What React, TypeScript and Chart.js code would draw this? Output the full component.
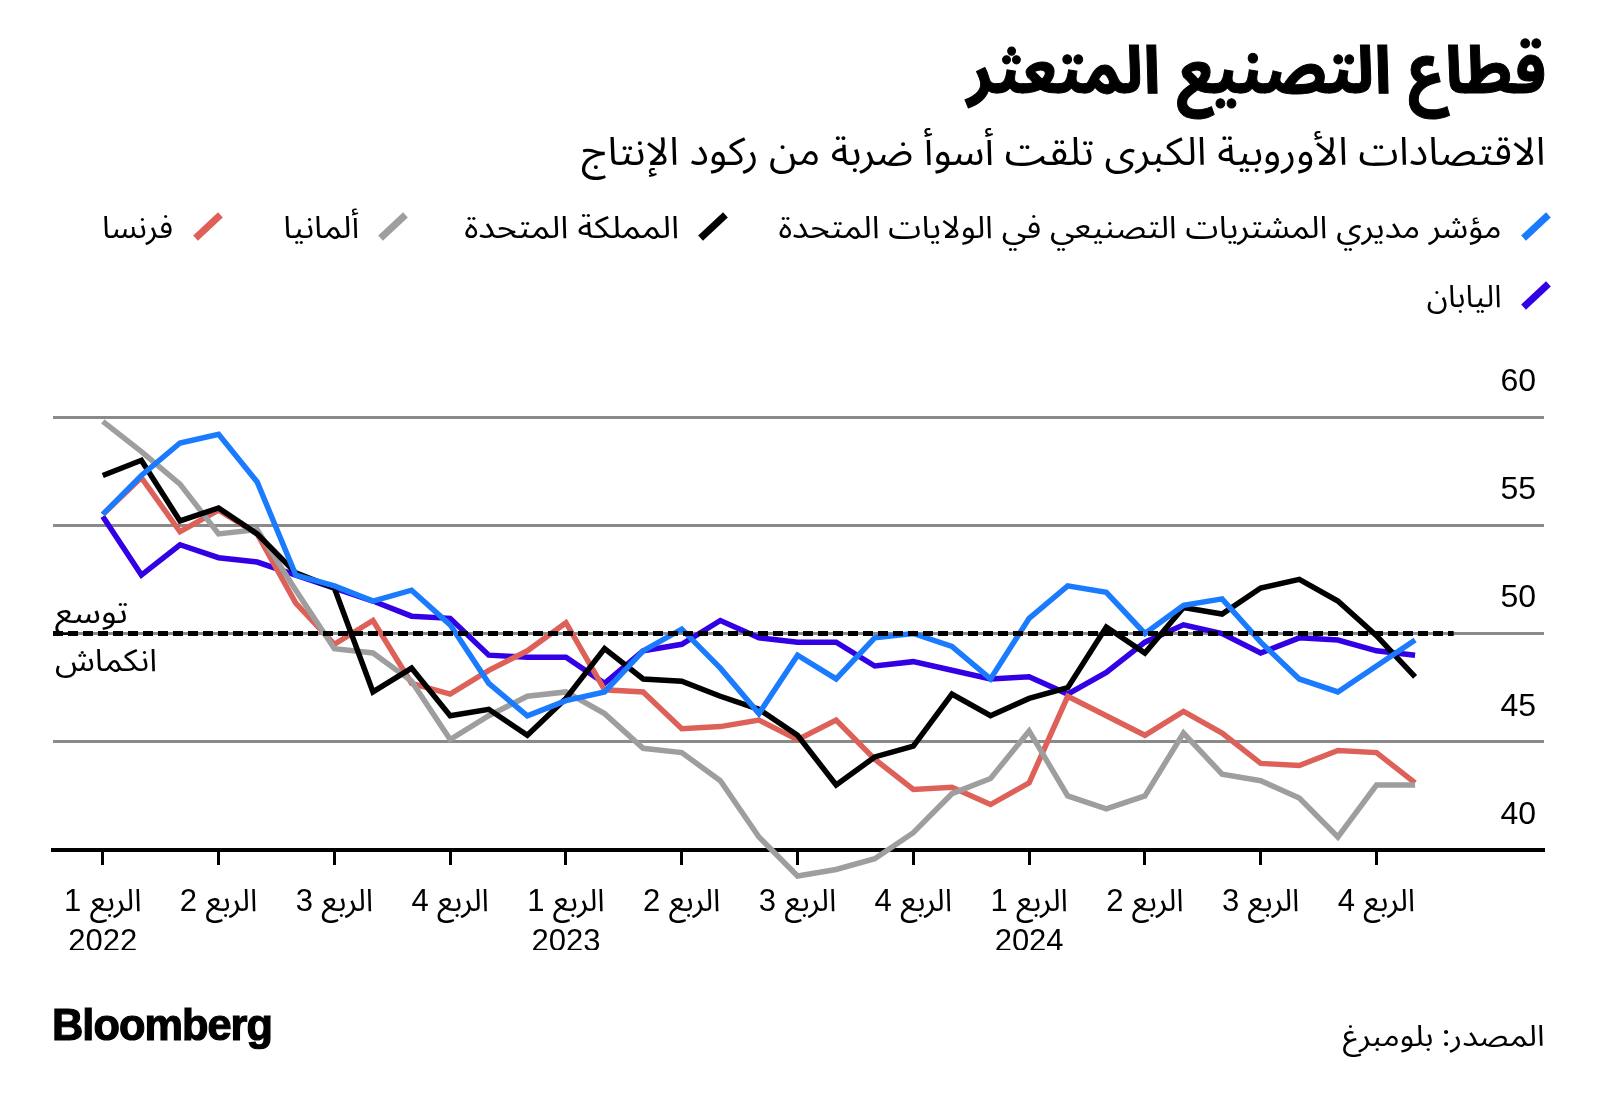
import React, { useEffect, useLayoutEffect, useRef } from 'react';
import { Chart, registerables } from 'chart.js';

Chart.register(...registerables);

// ---------- data ----------
const MONTHS = [
  '2022-01', '2022-02', '2022-03', '2022-04', '2022-05', '2022-06', '2022-07', '2022-08', '2022-09', '2022-10', '2022-11', '2022-12',
  '2023-01', '2023-02', '2023-03', '2023-04', '2023-05', '2023-06', '2023-07', '2023-08', '2023-09', '2023-10', '2023-11', '2023-12',
  '2024-01', '2024-02', '2024-03', '2024-04', '2024-05', '2024-06', '2024-07', '2024-08', '2024-09', '2024-10', '2024-11',
];
const US_PMI = [55.5, 57.3, 58.8, 59.2, 57.0, 52.7, 52.2, 51.5, 52.0, 50.4, 47.7, 46.2, 46.9, 47.3, 49.2, 50.2, 48.4, 46.3, 49.0, 47.9, 49.8, 50.0, 49.4, 47.9, 50.7, 52.2, 51.9, 50.0, 51.3, 51.6, 49.6, 47.9, 47.3, 48.5, 49.7];
const UK_PMI = [57.3, 58.0, 55.2, 55.8, 54.6, 52.8, 52.1, 47.3, 48.4, 46.2, 46.5, 45.3, 47.0, 49.3, 47.9, 47.8, 47.1, 46.5, 45.3, 43.0, 44.3, 44.8, 47.2, 46.2, 47.0, 47.5, 50.3, 49.1, 51.2, 50.9, 52.1, 52.5, 51.5, 49.9, 48.0];
const DE_PMI = [59.8, 58.4, 56.9, 54.6, 54.8, 52.0, 49.3, 49.1, 47.8, 45.1, 46.2, 47.1, 47.3, 46.3, 44.7, 44.5, 43.2, 40.6, 38.8, 39.1, 39.6, 40.8, 42.6, 43.3, 45.5, 42.5, 41.9, 42.5, 45.4, 43.5, 43.2, 42.4, 40.6, 43.0, 43.0];
const FR_PMI = [55.5, 57.2, 54.7, 55.7, 54.6, 51.4, 49.5, 50.6, 47.7, 47.2, 48.3, 49.2, 50.5, 47.4, 47.3, 45.6, 45.7, 46.0, 45.1, 46.0, 44.2, 42.8, 42.9, 42.1, 43.1, 47.1, 46.2, 45.3, 46.4, 45.4, 44.0, 43.9, 44.6, 44.5, 43.1];
const JP_PMI = [55.4, 52.7, 54.1, 53.5, 53.3, 52.7, 52.1, 51.5, 50.8, 50.7, 49.0, 48.9, 48.9, 47.7, 49.2, 49.5, 50.6, 49.8, 49.6, 49.6, 48.5, 48.7, 48.3, 47.9, 48.0, 47.2, 48.2, 49.6, 50.4, 50.0, 49.1, 49.8, 49.7, 49.2, 49.0];

const SERIES_NAMES = [
  'مؤشر مديري المشتريات التصنيعي في الولايات المتحدة',
  'المملكة المتحدة',
  'ألمانيا',
  'فرنسا',
  'اليابان',
];

const TICK_MONTH_INDEX = [0, 3, 6, 9, 12, 15, 18, 21, 24, 27, 30, 33];
const QUARTER_LABELS = ['الربع 1', 'الربع 2', 'الربع 3', 'الربع 4', 'الربع 1', 'الربع 2', 'الربع 3', 'الربع 4', 'الربع 1', 'الربع 2', 'الربع 3', 'الربع 4'];
const YEAR_LABELS = ['2022', '', '', '', '2023', '', '', '', '2024', '', '', ''];
const Y_TICKS = [40, 45, 50, 55, 60];
const THRESHOLD = 50;

const TITLE = 'قطاع التصنيع المتعثر';
const SUBTITLE = 'الاقتصادات الأوروبية الكبرى تلقت أسوأ ضربة من ركود الإنتاج';
const EXPANSION = 'توسع';
const CONTRACTION = 'انكماش';
const SOURCE = 'المصدر: بلومبرغ';

// ---------- styles ----------
const COLORS = ['#1a7bff', '#000000', '#9e9e9e', '#dd6159', '#3300e5'];
const ARABIC_FONT = "'Noto Sans Arabic', 'DejaVu Sans', sans-serif";
const LATIN_FONT = "'Liberation Sans', 'Noto Sans Arabic', 'DejaVu Sans', sans-serif";
const X_MIN = -1.29;
const X_MAX = 37.34;

type FitProps = {
  text: string;
  x: number;
  y: number;
  width: number;
  align: 'left' | 'right';
  size: number;
  weight?: number;
  family?: string;
  dir?: 'rtl' | 'ltr';
  spacing?: number;
  stroke?: number;
};

function FitText({ text, x, y, width, align, size, weight = 400, family = ARABIC_FONT, dir = 'rtl', spacing = 0, stroke = 0 }: FitProps) {
  const ref = useRef<HTMLDivElement>(null);
  useLayoutEffect(() => {
    const fit = () => {
      const el = ref.current;
      if (!el) return;
      el.style.transform = 'translateY(-50%)';
      const w = el.getBoundingClientRect().width;
      if (w > 0) el.style.transform = `translateY(-50%) scaleX(${width / w})`;
    };
    fit();
    if ((document as any).fonts && (document as any).fonts.ready) {
      (document as any).fonts.ready.then(fit);
    }
  }, [text, width, size]);
  const style: React.CSSProperties = {
    position: 'absolute',
    top: y,
    whiteSpace: 'nowrap',
    fontSize: size,
    fontWeight: weight,
    fontFamily: family,
    lineHeight: 1,
    direction: dir,
    letterSpacing: spacing,
    color: '#000',
    transformOrigin: align === 'right' ? 'right center' : 'left center',
    transform: 'translateY(-50%)',
  };
  if (stroke > 0) (style as any).WebkitTextStroke = `${stroke}px #000`;
  if (align === 'right') style.right = 1600 - x;
  else style.left = x;
  return (
    <div ref={ref} style={style}>
      {text}
    </div>
  );
}

function Swatch({ cx, cy, color }: { cx: number; cy: number; color: string }) {
  return (
    <div
      style={{
        position: 'absolute',
        left: cx - 17,
        top: cy - 3.5,
        width: 34,
        height: 7,
        background: color,
        transform: 'rotate(-43deg)',
      }}
    />
  );
}

const yLabelPlugin = {
  id: 'yLabels',
  afterDraw(chart: any) {
    const { ctx, chartArea, scales } = chart;
    const y = scales.y;
    ctx.save();
    ctx.font = `32px ${LATIN_FONT}`;
    ctx.fillStyle = '#000';
    ctx.textAlign = 'right';
    ctx.textBaseline = 'middle';
    y.ticks.forEach((t: any) => {
      ctx.fillText(String(t.value), chartArea.right - 8, y.getPixelForValue(t.value) - 35);
    });
    ctx.restore();
  },
};

function PmiChart() {
  const canvasRef = useRef<HTMLCanvasElement>(null);
  useEffect(() => {
    const canvas = canvasRef.current;
    if (!canvas) return;
    const seriesValues = [US_PMI, UK_PMI, DE_PMI, FR_PMI, JP_PMI];
    const lineSets = seriesValues.map((vals, k) => ({
      label: SERIES_NAMES[k],
      data: vals.map((v, i) => ({ x: i, y: v })),
      borderColor: COLORS[k],
      backgroundColor: COLORS[k],
      borderWidth: 5.5,
      borderJoinStyle: 'miter',
      pointRadius: 0,
      tension: 0,
      clip: false as any,
    }));
    const dashed = {
      label: 'threshold',
      data: [
        { x: X_MIN, y: THRESHOLD },
        { x: MONTHS.length, y: THRESHOLD },
      ],
      borderColor: '#000',
      backgroundColor: '#000',
      borderWidth: 5,
      borderDash: [10, 5],
      pointRadius: 0,
      clip: false as any,
    };
    const chart = new Chart(canvas, {
      type: 'line',
      data: { datasets: [dashed, ...lineSets] as any },
      options: {
        responsive: false,
        animation: false,
        devicePixelRatio: 1,
        events: [],
        layout: { padding: { left: 53, right: 56, top: 417, bottom: 152 } },
        plugins: { legend: { display: false }, tooltip: { enabled: false } },
        scales: {
          x: {
            type: 'linear',
            min: X_MIN,
            max: X_MAX,
            afterBuildTicks: (s: any) => {
              s.ticks = TICK_MONTH_INDEX.map((v) => ({ value: v }));
            },
            afterFit: (s: any) => {
              s.height = 100;
            },
            ticks: {
              autoSkip: false,
              maxRotation: 0,
              minRotation: 0,
              padding: 17,
              color: '#000',
              font: { family: LATIN_FONT, size: 31, lineHeight: 1.3 },
              callback: (value: any) => {
                const k = TICK_MONTH_INDEX.indexOf(Number(value));
                if (k < 0) return '';
                return YEAR_LABELS[k] ? [QUARTER_LABELS[k], YEAR_LABELS[k]] : QUARTER_LABELS[k];
              },
            },
            grid: {
              display: true,
              drawOnChartArea: false,
              drawTicks: true,
              tickLength: 15,
              tickWidth: 3,
              tickColor: '#000',
              color: '#000',
            },
            border: { display: true, color: '#000', width: 4 },
          },
          y: {
            type: 'linear',
            position: 'right',
            min: 40,
            max: 60,
            afterBuildTicks: (s: any) => {
              s.ticks = Y_TICKS.map((v) => ({ value: v }));
            },
            afterFit: (s: any) => {
              s.width = 0;
            },
            ticks: { display: false },
            grid: {
              drawTicks: false,
              lineWidth: 3,
              color: (c: any) => (c.tick && c.tick.value === 40 ? 'rgba(0,0,0,0)' : '#8a8a8a'),
            },
            border: { display: false },
          },
        },
      },
      plugins: [yLabelPlugin],
    });
    return () => chart.destroy();
  }, []);
  return (
    <canvas
      ref={canvasRef}
      width={1600}
      height={1102}
      style={{ position: 'absolute', left: 0, top: 0, width: 1600, height: 1102, display: 'block' }}
    />
  );
}

export default function App() {
  return (
    <div style={{ position: 'absolute', left: 0, top: 0, width: 1600, height: 1102, background: '#fff', overflow: 'hidden' }}>
      <PmiChart />
      <FitText text={TITLE} x={1546} y={72} width={579} align="right" size={66} weight={700} stroke={1} />
      <FitText text={SUBTITLE} x={1546} y={152} width={964} align="right" size={39} />

      <Swatch cx={1535.5} cy={226.5} color={COLORS[0]} />
      <FitText text={SERIES_NAMES[0]} x={1502} y={228} width={723} align="right" size={31} />
      <Swatch cx={713} cy={226.5} color={COLORS[1]} />
      <FitText text={SERIES_NAMES[1]} x={679} y={228} width={215} align="right" size={31} />
      <Swatch cx={393} cy={226.5} color={COLORS[2]} />
      <FitText text={SERIES_NAMES[2]} x={359} y={228} width={76} align="right" size={31} />
      <Swatch cx={208} cy={226.5} color={COLORS[3]} />
      <FitText text={SERIES_NAMES[3]} x={173} y={228} width={71} align="right" size={31} />
      <Swatch cx={1535.5} cy={295} color={COLORS[4]} />
      <FitText text={SERIES_NAMES[4]} x={1502} y={297} width={75} align="right" size={31} />

      <FitText text={EXPANSION} x={55} y={613} width={73} align="left" size={31} />
      <FitText text={CONTRACTION} x={55} y={661} width={102} align="left" size={31} />

      <FitText text="Bloomberg" x={52} y={1024} width={220} align="left" size={45} weight={700} family="'Liberation Sans', Arial, sans-serif" dir="ltr" spacing={-1} stroke={1.2} />
      <FitText text={SOURCE} x={1545} y={1036} width={202} align="right" size={29} />
    </div>
  );
}
